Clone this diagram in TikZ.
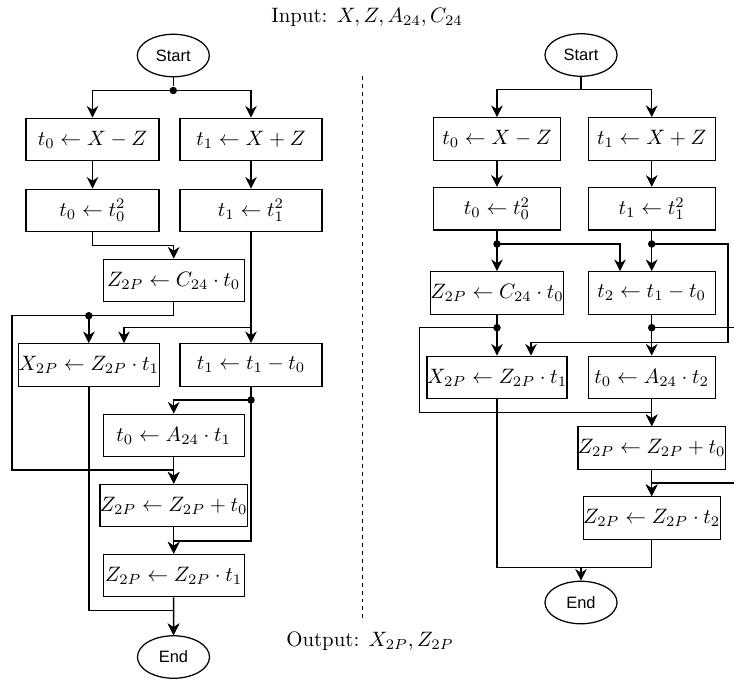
\documentclass[tikz,border=0pt]{standalone}
\usepackage{amsmath, amssymb}
\usepackage{fontspec}
\newfontfamily\flowsans{Liberation Sans}
\usepackage{tikz}
\usetikzlibrary{calc, positioning}
\usetikzlibrary{shapes.geometric, arrows.meta}

\begin{document}
\begin{tikzpicture}[x=0.48pt, y=-0.48pt,
        opbox/.style={draw, line width=0.6pt, inner sep=0pt, minimum height=20.4pt, minimum width=#1},
        opbox/.default=63.8pt,
        term/.style={draw, ellipse, line width=0.6pt, inner sep=0pt, minimum width=34.6pt, minimum height=20.4pt, font=\flowsans\fontsize{7.9}{9}\selectfont},
        link/.style={line width=0.7pt},
        arr/.style={line width=0.7pt, -{Stealth[length=5.6pt, width=5.6pt, inset=1.8pt]}},
        junc/.style={circle, fill, inner sep=0pt, minimum size=3.6pt}]
            \useasboundingbox (0,0) rectangle (734,681);

            \node (inp) at (367,17) {Input: $X, Z, A_{24}, C_{24}$};
            \node (outp) at (370,641) {Output: $X_{2P}, Z_{2P}$};
            \draw[line width=0.6pt, dash pattern=on 1.9pt off 1.9pt] (362.7,76) -- (362.7,620);

            % left flow
            \node[term] (startL) at (173.3,55.5) {Start};
            \node[opbox] (a0) at (92.5,139.5) {$t_0 \leftarrow X - Z$};
            \node[opbox=68.2pt] (a1) at (251,139.5) {$t_1 \leftarrow X + Z$};
            \node[opbox] (b0) at (92.5,210.5) {$t_0 \leftarrow t_0^2$};
            \node[opbox=68.2pt] (b1) at (251,210.5) {$t_1 \leftarrow t_1^2$};
            \node[opbox=67.7pt] (c0) at (173.7,280.5) {$Z_{2P} \leftarrow C_{24} \cdot t_0$};
            \node[opbox=67.7pt] (d0) at (88.8,365) {$X_{2P} \leftarrow Z_{2P} \cdot t_1$};
            \node[opbox=68.2pt] (d1) at (251,365) {$t_1 \leftarrow t_1 - t_0$};
            \node[opbox=67.7pt] (e0) at (173.7,435.5) {$t_0 \leftarrow A_{24} \cdot t_1$};
            \node[opbox=67.7pt] (f0) at (173.7,505.5) {$Z_{2P} \leftarrow Z_{2P} + t_0$};
            \node[opbox=67.7pt] (g0) at (173.7,575.5) {$Z_{2P} \leftarrow Z_{2P} \cdot t_1$};
            \node[term] (endL) at (173.5,657) {End};

            \node[junc] (sL) at (173.3,90.5) {};
            \node[junc] (pL) at (88.8,315.7) {};
            \coordinate (qL) at (251,327.7);
            \node[junc] (rL) at (251,400) {};

            \draw[link] (startL) -- (sL);
            \draw[arr] (sL.center) -| (a0);
            \draw[arr] (sL.center) -| (a1);
            \draw[arr] (a0) -- (b0);
            \draw[arr] (a1) -- (b1);
            \draw[arr] (b0) -- (92.5,245.7) -| (c0);
            \draw[link] (c0) |- (pL.center);
            \draw[arr] (pL.center) -- (d0);
            \draw[arr] (pL.center) -- (12,315.7) -- (12,470) -| (f0);
            \draw[arr] (b1) -- (d1);
            \draw[arr] (qL) -| (124,0 |- d0.north);
            \draw[link] (d1) -- (rL.center);
            \draw[arr] (rL.center) -| (e0);
            \draw[arr] (rL.center) -- (251,541) -| (g0);
            \draw[arr] (e0) -- (f0);
            \draw[arr] (f0) -- (g0);
            \draw[arr] (d0) -- (88.8,610.7) -| (endL);
            \draw[arr] (g0) -- (endL);

            % right flow
            \node[term] (startR) at (581,55) {Start};
            \node[opbox=61pt] (h0) at (497,139) {$t_0 \leftarrow X - Z$};
            \node[opbox=61pt] (h1) at (651.7,139) {$t_1 \leftarrow X + Z$};
            \node[opbox=61pt] (i0) at (497,208.7) {$t_0 \leftarrow t_0^2$};
            \node[opbox=61pt] (i1) at (651.7,208.7) {$t_1 \leftarrow t_1^2$};
            \node[opbox=61pt] (j0) at (497,293) {$Z_{2P} \leftarrow C_{24} \cdot t_0$};
            \node[opbox=61pt] (j1) at (651.7,293) {$t_2 \leftarrow t_1 - t_0$};
            \node[opbox=61pt] (k0) at (497,377.5) {$X_{2P} \leftarrow Z_{2P} \cdot t_1$};
            \node[opbox=61pt] (k1) at (651.7,377.5) {$t_0 \leftarrow A_{24} \cdot t_2$};
            \node[opbox=67.7pt] (l1) at (651.7,448) {$Z_{2P} \leftarrow Z_{2P} + t_0$};
            \node[opbox=61pt] (m1) at (651.7,518) {$Z_{2P} \leftarrow Z_{2P} \cdot t_2$};
            \node[term] (endR) at (581,602.5) {End};

            \coordinate (sR) at (581,89.3);
            \node[junc] (pR) at (497,244) {};
            \node[junc] (qR) at (651.7,244) {};
            \node[junc] (rR) at (497,327.7) {};
            \node[junc] (tR) at (651.7,327.7) {};
            \coordinate (uR) at (581,567.7);

            \draw[link] (startR) -- (sR);
            \draw[arr] (sR) -| (h0);
            \draw[arr] (sR) -| (h1);
            \draw[arr] (h0) -- (i0);
            \draw[arr] (h1) -- (i1);
            \draw[link] (i0) -- (pR.center);
            \draw[link] (i1) -- (qR.center);
            \draw[arr] (pR.center) -- (j0);
            \draw[arr] (pR.center) -| (620,0 |- j1.north);
            \draw[arr] (qR.center) -- (j1);
            \draw[arr] (qR.center) -| (728,342.7) -| (531,0 |- k0.north);
            \draw[link] (j0) -- (rR.center);
            \draw[link] (j1) -- (tR.center);
            \draw[arr] (rR.center) -- (k0);
            \draw[arr] (rR.center) -| (419.3,412.3) -| (l1);
            \draw[arr] (tR.center) -- (k1);
            \draw[arr] (tR.center) -| (745,483) -| (m1);
            \draw[arr] (k1) -- (l1);
            \draw[arr] (l1) -- (m1);
            \draw[link] (k0) |- (uR);
            \draw[link] (m1) |- (uR);
            \draw[arr] (uR) -- (endR);
        \end{tikzpicture}
\end{document}
